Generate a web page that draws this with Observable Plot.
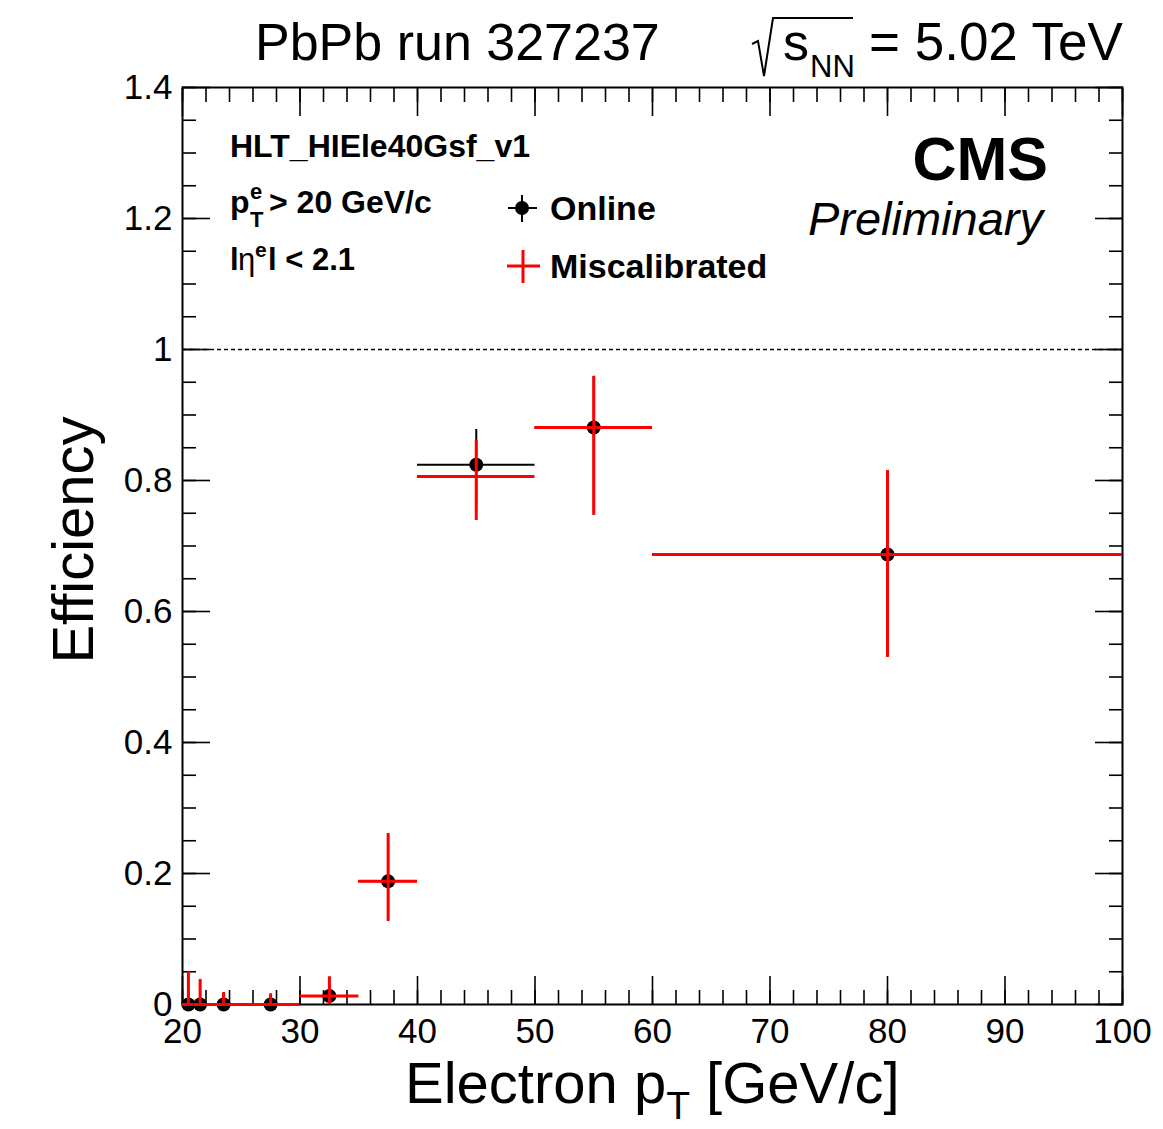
<!DOCTYPE html>
<html>
<head>
<meta charset="utf-8">
<script src="https://cdn.jsdelivr.net/npm/d3@7"></script>
<script src="https://cdn.jsdelivr.net/npm/@observablehq/plot@0.6"></script>
<style>
  html, body { margin: 0; padding: 0; background: #fff; }
  svg { display: block; }
</style>
</head>
<body>
<div id="chart"></div>
<script>
// ---- data ----
const binLow  = [20, 21, 22, 25, 30, 35, 40, 50, 60];
const binHigh = [21, 22, 25, 30, 35, 40, 50, 60, 100];

const onlineEff    = [0, 0, 0, 0, 0.013, 0.188, 0.824, 0.881, 0.687];
const onlineErrUp  = [0.050, 0.038, 0.018, 0.016, 0.029, 0.073, 0.054, 0.078, 0.128];
const onlineErrLow = [0, 0, 0, 0, 0.013, 0.061, 0.060, 0.134, 0.157];

const miscalEff    = [0, 0, 0, 0, 0.013, 0.188, 0.806, 0.881, 0.687];
const miscalErrUp  = [0.050, 0.038, 0.018, 0.016, 0.029, 0.073, 0.055, 0.078, 0.128];
const miscalErrLow = [0, 0, 0, 0, 0.013, 0.061, 0.067, 0.134, 0.157];

const xMajorTicks = [20, 30, 40, 50, 60, 70, 80, 90, 100];
const xMinorTicks = d3.range(20, 101, 2);
const yMajorTicks = [0, 0.2, 0.4, 0.6, 0.8, 1, 1.2, 1.4];
const yMinorTicks = d3.range(0, 29).map(i => +(i * 0.05).toFixed(2));

const titleText = "PbPb run 327237";
const triggerText = "HLT_HIEle40Gsf_v1";
const legendLabels = ["Online", "Miscalibrated"];

// ---- table for the library ----
const rows = binLow.map((lo, i) => ({
  lo, hi: binHigh[i], c: (lo + binHigh[i]) / 2,
  on: onlineEff[i], onUp: onlineErrUp[i], onLow: onlineErrLow[i],
  mis: miscalEff[i], misUp: miscalErrUp[i], misLow: miscalErrLow[i]
}));

const FONT = "'Liberation Sans', Arial, Helvetica, sans-serif";
const RED = "#ff0000";
const fmt = d => String(d);

const plot = Plot.plot({
  width: 1163,
  height: 1129,
  marginLeft: 182,
  marginRight: 41,
  marginTop: 87,
  marginBottom: 125,
  x: { domain: [20, 100] },
  y: { domain: [0, 1.4] },
  style: { fontFamily: FONT, color: "#000", background: "#fff", overflow: "visible" },
  marks: [
    Plot.ruleY([1], { stroke: "#000", strokeWidth: 1.3, strokeDasharray: "4,3" }),

    // inward ticks: bottom / top
    Plot.axisX(xMinorTicks, { anchor: "bottom", tickSize: -14, tickFormat: () => "", label: null, strokeWidth: 1.6 }),
    Plot.axisX(xMajorTicks, { anchor: "bottom", tickSize: -28, tickFormat: () => "", label: null, strokeWidth: 1.6 }),
    Plot.axisX(xMinorTicks, { anchor: "top", tickSize: -14, tickFormat: () => "", label: null, strokeWidth: 1.6 }),
    Plot.axisX(xMajorTicks, { anchor: "top", tickSize: -28, tickFormat: () => "", label: null, strokeWidth: 1.6 }),
    // inward ticks: left / right
    Plot.axisY(yMinorTicks, { anchor: "left", tickSize: -14, tickFormat: () => "", label: null, strokeWidth: 1.6 }),
    Plot.axisY(yMajorTicks, { anchor: "left", tickSize: -28, tickFormat: () => "", label: null, strokeWidth: 1.6 }),
    Plot.axisY(yMinorTicks, { anchor: "right", tickSize: -14, tickFormat: () => "", label: null, strokeWidth: 1.6 }),
    Plot.axisY(yMajorTicks, { anchor: "right", tickSize: -28, tickFormat: () => "", label: null, strokeWidth: 1.6 }),

    // tick labels
    Plot.axisX(xMajorTicks, { anchor: "bottom", tickSize: 0, tickPadding: 14, tickFormat: fmt, fontSize: 35, label: null }),
    Plot.axisY(yMajorTicks, { anchor: "left", tickSize: 0, tickPadding: 10, tickFormat: fmt, fontSize: 35, dy: 0, label: null }),

    Plot.frame({ stroke: "#000", strokeWidth: 2 }),

    // Online (black) error bars + markers
    Plot.ruleY(rows, { x1: "lo", x2: "hi", y: "on", stroke: "#000", strokeWidth: 2 }),
    Plot.ruleX(rows, { x: "c", y1: d => d.on - d.onLow, y2: d => d.on + d.onUp, stroke: "#000", strokeWidth: 2 }),
    Plot.dot(rows, { x: "c", y: "on", r: 7, fill: "#000", stroke: "none" }),

    // Miscalibrated (red) error bars
    Plot.ruleY(rows, { x1: "lo", x2: "hi", y: "mis", stroke: RED, strokeWidth: 3 }),
    Plot.ruleX(rows, { x: "c", y1: d => d.mis - d.misLow, y2: d => d.mis + d.misUp, stroke: RED, strokeWidth: 3 })
  ]
});

document.getElementById("chart").appendChild(plot);

// ---- annotations ----
const svg = d3.select(plot);
const g = svg.append("g").attr("font-family", FONT).attr("fill", "#000");

function addText(x, y, size, opts = {}) {
  const t = g.append("text")
    .attr("x", x).attr("y", y)
    .attr("font-size", size)
    .attr("font-weight", opts.weight || "normal")
    .attr("font-style", opts.style || "normal")
    .attr("text-anchor", opts.anchor || "start");
  if (opts.text != null) t.text(opts.text);
  return t;
}

// title
addText(255, 60, 52, { text: titleText });

// sqrt(s_NN) = 5.02 TeV
g.append("path")
  .attr("d", "M752,44 L758,41 L764,76 L773,18 L853,18")
  .attr("fill", "none").attr("stroke", "#000").attr("stroke-width", 2);
addText(783, 60, 52, { text: "s" });
addText(810, 77, 31, { text: "NN" });
addText(869, 60, 53, { text: "= 5.02 TeV" });

// trigger / cuts
addText(230, 157, 32, { weight: "bold", text: triggerText });
addText(230, 213, 32, { weight: "bold", text: "p" });
addText(250, 199, 22, { weight: "bold", text: "e" });
addText(250, 227, 22, { weight: "bold", text: "T" });
addText(269, 213, 32, { weight: "bold", text: "> 20 GeV/c" });

addText(230, 270, 31, { weight: "bold", text: "l" });
addText(238, 270, 31, { weight: "normal", text: "η" });
addText(255, 257, 21, { weight: "bold", text: "e" });
addText(268, 270, 31, { weight: "bold", text: "l < 2.1" });

// legend
g.append("line").attr("x1", 508).attr("x2", 537).attr("y1", 208).attr("y2", 208).attr("stroke", "#000").attr("stroke-width", 2);
g.append("line").attr("x1", 522).attr("x2", 522).attr("y1", 195).attr("y2", 222).attr("stroke", "#000").attr("stroke-width", 2);
g.append("circle").attr("cx", 522).attr("cy", 208).attr("r", 7).attr("fill", "#000");
addText(550, 220, 34, { weight: "bold", text: legendLabels[0] });

g.append("line").attr("x1", 507).attr("x2", 540).attr("y1", 266).attr("y2", 266).attr("stroke", RED).attr("stroke-width", 3);
g.append("line").attr("x1", 523).attr("x2", 523).attr("y1", 250).attr("y2", 283).attr("stroke", RED).attr("stroke-width", 3);
addText(550, 278, 34, { weight: "bold", text: legendLabels[1] });

// CMS Preliminary
addText(1048, 180, 61, { weight: "bold", anchor: "end", text: "CMS" });
addText(1043, 235, 47, { style: "italic", anchor: "end", text: "Preliminary" });

// axis titles
const xl = addText(405, 1103, 58);
xl.append("tspan").text("Electron p");
xl.append("tspan").attr("font-size", 39).attr("dy", 16).text("T");
xl.append("tspan").attr("dy", -16).text(" [GeV/c]");

addText(0, 0, 58, { anchor: "middle", text: "Efficiency" })
  .attr("transform", "translate(93,540) rotate(-90)");
</script>
</body>
</html>
